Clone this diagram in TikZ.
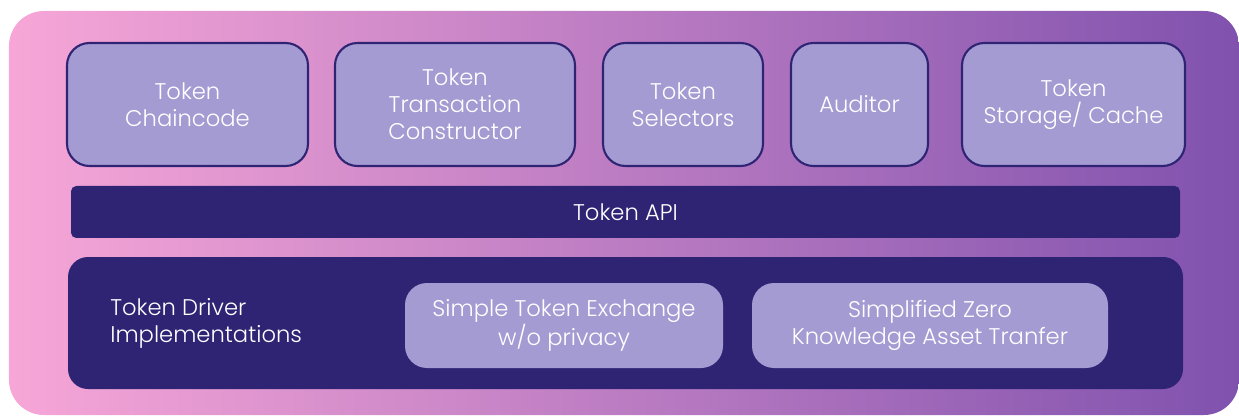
\documentclass[tikz,border=0pt]{standalone}
\usepackage{fontspec}
\setmainfont{Poppins Light}
\usepackage{xcolor}
\usetikzlibrary{positioning}
\definecolor{bgleft}{HTML}{F7A6D7}
\definecolor{bgright}{HTML}{8052AE}
\definecolor{navy}{HTML}{2F2474}
\definecolor{lilac}{HTML}{A59BD3}

\begin{document}
\begin{tikzpicture}[
    comp/.style={draw=navy, fill=lilac, line width=1.2pt, rounded corners=0.45cm,
      minimum height=2.46cm, align=center, text=white, font=\fontsize{12.9}{15.3}\selectfont},
    api/.style={fill=navy, rounded corners=3pt, minimum width=22.18cm, minimum height=1.04cm,
      text=white, font=\fontsize{12.9}{15.3}\selectfont},
    layer/.style={fill=navy, rounded corners=0.4cm, minimum width=22.3cm, minimum height=2.64cm},
    impl/.style={fill=lilac, rounded corners=0.44cm, minimum height=1.7cm, align=center,
      text=white, font=\fontsize{12.9}{15.3}\selectfont},
    txt/.style={align=left, text=white, font=\fontsize{12.9}{15.3}\selectfont, inner sep=0pt}]

  \useasboundingbox (0,0) rectangle (24.78,-8.32);

  % Background panel, pink to purple.
  \shade[left color=bgleft, right color=bgright, rounded corners=0.7cm]
    (0.18,-0.22) rectangle (24.78,-8.3);

  % Components on top of the API.
  \node[comp, minimum width=4.82cm] (chaincode) at (3.75,-2.09) {Token\\Chaincode};
  \node[comp, minimum width=4.80cm] (txbuilder) at (9.10,-2.09) {Token\\Transaction\\Constructor};
  \node[comp, minimum width=3.20cm] (selectors) at (13.66,-2.09) {Token\\Selectors};
  \node[comp, minimum width=2.74cm] (auditor) at (17.19,-2.09) {Auditor};
  \node[comp, minimum width=4.46cm] (storage) at (21.47,-2.09) {Token\\Storage/ Cache};

  \node[api] (tokenapi) at (12.51,-4.24) {Token API};

  % Driver layer with its two implementations.
  \node[layer] (drivers) at (12.51,-6.46) {};
  \node[txt, anchor=west] (drvlabel) at (2.2,-6.46) {Token Driver\\Implementations};
  \node[impl, minimum width=6.36cm] (plain) at (11.28,-6.51) {Simple Token Exchange\\w/o privacy};
  \node[impl, minimum width=7.12cm] (zkat) at (18.60,-6.51) {Simplified Zero\\Knowledge Asset Tranfer};
\end{tikzpicture}
\end{document}
